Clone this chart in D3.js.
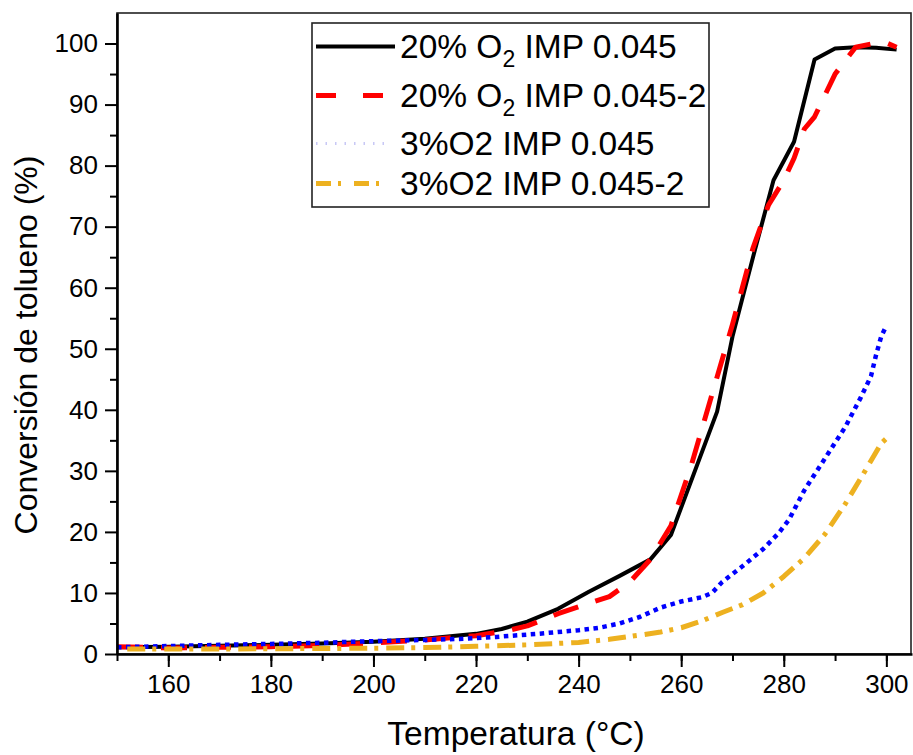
<!DOCTYPE html>
<html>
<head>
<meta charset="utf-8">
<script src="https://cdn.jsdelivr.net/npm/d3@7"></script>
<style>
  body { margin: 0; background: #fff; }
  svg { display: block; }
  text { font-family: "Liberation Sans", Arial, sans-serif; fill: #000; }
</style>
</head>
<body>
<svg id="chart" width="913" height="755"></svg>
<script>
// Toluene conversion vs temperature, four catalyst runs
const tempO2_20 = [150,160,170,180,190,200,210,220,225,230,236,242,248,254,258,267,270,274,278,282,286,290,294,298,302];
const convO2_20 = [1.1,1.2,1.35,1.5,1.7,2.0,2.5,3.3,4.1,5.3,7.4,10.2,12.8,15.5,19.5,39.7,52.0,65.0,77.6,83.9,97.4,99.2,99.4,99.3,99.0];

const tempO2_20b = [150,160,170,180,190,200,210,220,226,230,236,242,246,250,254,258,262,266,270,274,277,280,282,284,286,290,294,298,300,302];
const convO2_20b = [1.2,1.0,1.1,1.2,1.4,1.8,2.3,3.0,3.8,4.6,6.6,8.3,9.4,11.8,15.5,21.0,31.0,42.5,54.0,66.5,73.5,77.6,81.2,86.0,88.0,95.0,99.4,100.1,100.1,99.4];

const tempO2_3 = [150,160,170,180,190,200,210,218,224,232,240,244,248,252,256,260,264,266,268,272,276,279,281,284,288,292,295,297,298,299,300];
const convO2_3 = [1.1,1.3,1.5,1.65,1.85,2.1,2.3,2.5,2.8,3.3,3.9,4.3,5.0,6.1,7.6,8.6,9.3,10.0,11.8,14.4,17.2,19.8,22.0,26.8,32.0,37.2,42.0,45.5,49.0,52.0,53.8];

const tempO2_3b = [152,160,170,180,190,200,210,220,230,240,246,252,256,260,264,268,272,276,280,284,288,292,296,299,300];
const convO2_3b = [0.8,0.8,0.82,0.86,0.9,0.95,1.05,1.25,1.5,1.9,2.4,3.1,3.6,4.3,5.4,6.8,8.1,10.0,12.7,15.7,19.6,24.6,30.2,34.5,35.3];

const xTickValues = [160,180,200,220,240,260,280,300];
const yTickValues = [0,10,20,30,40,50,60,70,80,90,100];
const xTitle = "Temperatura (°C)";
const yTitle = "Conversión de tolueno (%)";

const series = [
  { t: tempO2_20,  v: convO2_20,  color: "#000000", width: 4,   dash: null,        label: ["20% O", "2", " IMP 0.045"] },
  { t: tempO2_20b, v: convO2_20b, color: "#FF0000", width: 5,   dash: "26,18",     label: ["20% O", "2", " IMP 0.045-2"] },
  { t: tempO2_3,   v: convO2_3,   color: "#0000FF", width: 4.5, dash: "4.5,4.5",   label: ["3%O2 IMP 0.045"] },
  { t: tempO2_3b,  v: convO2_3b,  color: "#EDB120", width: 5,   dash: "18,7,4,8",  label: ["3%O2 IMP 0.045-2"] }
];

const svg = d3.select("#chart");
const plotL = 117, plotR = 912, plotT = 13, plotB = 654;

const x = d3.scaleLinear().domain([150, 305]).range([plotL, plotR]);
const y = d3.scaleLinear().domain([0, 105]).range([plotB, plotT]);

// frame (top and right edges)
svg.append("rect")
  .attr("x", plotL).attr("y", plotT)
  .attr("width", plotR - plotL - 1).attr("height", plotB - plotT)
  .attr("fill", "none").attr("stroke", "#222").attr("stroke-width", 1.6);

// curves
const line = d3.line().x(d => x(d[0])).y(d => y(d[1])).curve(d3.curveLinear);
series.forEach(s => {
  const pts = s.t.map((t, i) => [t, s.v[i]]);
  svg.append("path")
    .attr("d", line(pts))
    .attr("fill", "none")
    .attr("stroke", s.color)
    .attr("stroke-width", s.width)
    .attr("stroke-linejoin", "round")
    .attr("stroke-dasharray", s.dash);
});

// x axis
const xMinor = d3.range(150, 306, 10);
svg.append("g").attr("transform", `translate(0,${plotB})`)
  .call(d3.axisBottom(x).tickValues(xMinor).tickSize(7).tickFormat(""))
  .call(g => g.select(".domain").remove())
  .call(g => g.selectAll("line").attr("stroke-width", 2));
const gx = svg.append("g").attr("transform", `translate(0,${plotB})`)
  .call(d3.axisBottom(x).tickValues(xTickValues).tickSize(13).tickPadding(8).tickSizeOuter(0));
gx.select(".domain").attr("stroke-width", 2.6);
gx.selectAll("line").attr("stroke-width", 2);
gx.selectAll("text").attr("font-size", 26).attr("font-family", "Liberation Sans, Arial, sans-serif");

// y axis
const yMinor = d3.range(5, 105, 10);
svg.append("g").attr("transform", `translate(${plotL},0)`)
  .call(d3.axisLeft(y).tickValues(yMinor).tickSize(7).tickFormat(""))
  .call(g => g.select(".domain").remove())
  .call(g => g.selectAll("line").attr("stroke-width", 2));
const gy = svg.append("g").attr("transform", `translate(${plotL},0)`)
  .call(d3.axisLeft(y).tickValues(yTickValues).tickSize(12).tickPadding(7).tickSizeOuter(0));
gy.select(".domain").attr("stroke-width", 2.6);
gy.selectAll("line").attr("stroke-width", 2);
gy.selectAll("text").attr("font-size", 26).attr("font-family", "Liberation Sans, Arial, sans-serif");

// axis titles
svg.append("text")
  .attr("x", 516).attr("y", 745)
  .attr("text-anchor", "middle").attr("font-size", 33.5)
  .text(xTitle);
svg.append("text")
  .attr("transform", `translate(37,345) rotate(-90)`)
  .attr("text-anchor", "middle").attr("font-size", 32)
  .text(yTitle);

// legend
const lg = svg.append("g");
lg.append("rect")
  .attr("x", 312).attr("y", 23).attr("width", 397).attr("height", 184)
  .attr("fill", "#fff").attr("stroke", "#222").attr("stroke-width", 1.6);
const rowBase = [58, 107, 155, 195];
const legendSample = [
  { color: "#000000", width: 4,   dash: null,        x2: 395 },
  { color: "#FF0000", width: 5,   dash: "20,27",     x2: 386 },
  { color: "#c8c8f5", width: 3,   dash: "1.5,8",     x2: 384 },
  { color: "#EDB120", width: 5,   dash: "15,7,3,13", x2: 380 }
];
series.forEach((s, i) => {
  const ly = rowBase[i] - 11.5;
  const smp = legendSample[i];
  lg.append("line")
    .attr("x1", 316).attr("x2", smp.x2).attr("y1", ly).attr("y2", ly)
    .attr("stroke", smp.color).attr("stroke-width", smp.width)
    .attr("stroke-dasharray", smp.dash);
  const t = lg.append("text").attr("x", 400).attr("y", rowBase[i]).attr("font-size", 33.5);
  if (s.label.length === 3) {
    t.append("tspan").text(s.label[0]);
    t.append("tspan").attr("dy", 9).attr("font-size", 23).text(s.label[1]);
    t.append("tspan").attr("dy", -9).text(s.label[2]);
  } else {
    t.text(s.label[0]);
  }
});
</script>
</body>
</html>
